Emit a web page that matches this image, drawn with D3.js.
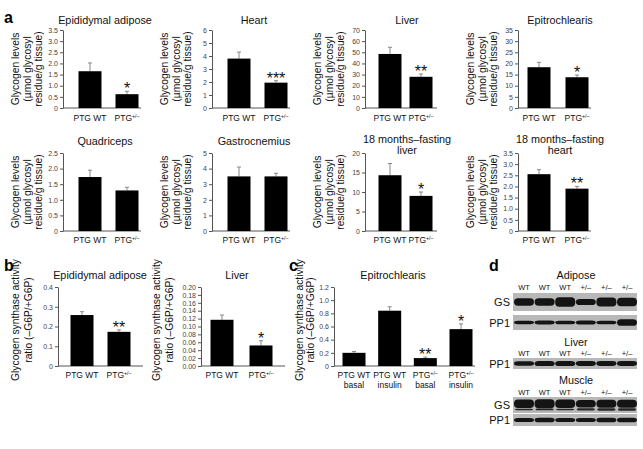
<!DOCTYPE html>
<html><head><meta charset="utf-8">
<script src="https://cdn.jsdelivr.net/npm/d3@7"></script>
<style>
body{margin:0;background:#fff;}
svg text{font-family:"Liberation Sans",Arial,Helvetica,sans-serif;}
</style></head><body>
<svg id="fig" width="643" height="449"></svg>
<script>
// ---------- DATA ----------
const ptgCats = ["PTG WT", "PTG+/-"];

const epiAdiposeGlycogen = [1.65, 0.62];
const epiAdiposeGlycogenErr = [2.02, 0.75];
const heartGlycogen = [3.8, 1.95];
const heartGlycogenErr = [4.3, 2.1];
const liverGlycogen = [48.5, 28];
const liverGlycogenErr = [54.5, 30.5];
const epitroGlycogen = [18.3, 13.8];
const epitroGlycogenErr = [20.5, 14.8];
const quadGlycogen = [1.73, 1.3];
const quadGlycogenErr = [1.95, 1.4];
const gastroGlycogen = [3.5, 3.5];
const gastroGlycogenErr = [4.1, 3.7];
const oldLiverGlycogen = [14.3, 9.0];
const oldLiverGlycogenErr = [17.3, 10.0];
const oldHeartGlycogen = [2.55, 1.9];
const oldHeartGlycogenErr = [2.75, 2.0];

const gsAdiposeRatio = [0.258, 0.173];
const gsAdiposeRatioErr = [0.275, 0.183];
const gsLiverRatio = [0.117, 0.052];
const gsLiverRatioErr = [0.129, 0.064];

const epitroGenotype = ["PTG WT", "PTG WT", "PTG+/-", "PTG+/-"];
const epitroCondition = ["basal", "insulin", "basal", "insulin"];
const gsEpitroRatio = [0.20, 0.84, 0.12, 0.56];
const gsEpitroRatioErr = [0.22, 0.90, 0.135, 0.64];

const starsEpiAdipose = ["", "*"];
const starsHeart = ["", "***"];
const starsLiver = ["", "**"];
const starsEpitro = ["", "*"];
const starsNone = ["", ""];
const starsOldLiver = ["", "*"];
const starsOldHeart = ["", "**"];
const starsGsAdipose = ["", "**"];
const starsGsLiver = ["", "*"];
const starsGsEpitro = ["", "", "**", "*"];

const ticks35 = ["0", "0.5", "1.0", "1.5", "2.0", "2.5", "3.0", "3.5"];
const ticks6 = ["0", "1", "2", "3", "4", "5", "6"];
const ticks70 = ["0", "10", "20", "30", "40", "50", "60", "70"];
const ticks35b = ["0", "5", "10", "15", "20", "25", "30", "35"];
const ticks25 = ["0", "0.5", "1.0", "1.5", "2.0", "2.5"];
const ticks5 = ["0", "1", "2", "3", "4", "5"];
const ticks20 = ["0", "5", "10", "15", "20"];
const ticks04 = ["0", "0.1", "0.2", "0.3", "0.4"];
const ticks020 = ["0.00", "0.02", "0.04", "0.06", "0.08", "0.10", "0.12", "0.14", "0.16", "0.18", "0.20"];
const ticks12 = ["0", "0.2", "0.4", "0.6", "0.8", "1.0", "1.2"];

const blotLanes = ["WT", "WT", "WT", "+/–", "+/–", "+/–"];
const adiposeGS = [0.72, 0.72, 0.95, 0.62, 0.9, 0.85];
const adiposePP1 = [0.4, 0.45, 0.42, 0.48, 0.42, 0.8];
const liverPP1 = [0.72, 0.85, 0.85, 0.8, 0.8, 0.78];
const muscleGS = [0.95, 1.0, 0.95, 0.85, 0.9, 0.9];
const muscleGSLower = [0.3, 0.35, 0.3, 0.45, 0.5, 0.5];
const musclePP1 = [0.62, 0.68, 0.62, 0.62, 0.68, 0.68];

// ---------- DRAWING ----------
const svg = d3.select("#fig");
const glyLab = ["Glycogen levels", "(µmol glycosyl", "residue/g tissue)"];
const gsLab = ["Glycogen synthase activity", "ratio (–G6P/+G6P)"];

function writeCat(textSel, cat, fs) {
  if (cat.endsWith("+/-")) {
    textSel.text(null);
    textSel.append("tspan").text(cat.replace("+/-", ""));
    textSel.append("tspan").attr("font-size", fs * 0.62).attr("dy", -fs * 0.38).text("+/–");
  } else textSel.text(cat);
}

function drawBarChart(o) {
  const g = svg.append("g");
  const y = d3.scaleLinear().domain([0, +o.ticks[o.ticks.length - 1]]).range([o.yBot, o.yTop]);
  const x = d3.scalePoint().domain(d3.range(o.vals.length)).range([o.c1, o.c2]);
  const bw = 23;
  const ax = g.append("g").attr("transform", `translate(${o.axisX},0)`)
    .call(d3.axisLeft(y).tickValues(o.ticks.map(Number)).tickFormat((d, i) => o.ticks[i]).tickSize(3).tickSizeOuter(0).tickPadding(2));
  ax.select(".domain").attr("stroke", "#555");
  ax.selectAll(".tick line").attr("stroke", "#555");
  ax.selectAll(".tick text").attr("font-size", 7).attr("fill", "#444").attr("font-family", "Liberation Sans, Arial, sans-serif");
  g.append("line").attr("x1", o.axisX).attr("x2", o.xEnd).attr("y1", y(0)).attr("y2", y(0)).attr("stroke", "#555");
  const idx = d3.range(o.vals.length);
  g.selectAll(".eb").data(idx).join("line")
    .attr("x1", i => x(i)).attr("x2", i => x(i)).attr("y1", i => y(o.vals[i])).attr("y2", i => y(o.errs[i]))
    .attr("stroke", "#888").attr("stroke-width", 1);
  g.selectAll(".ec").data(idx).join("line")
    .attr("x1", i => x(i) - 2).attr("x2", i => x(i) + 2).attr("y1", i => y(o.errs[i])).attr("y2", i => y(o.errs[i]))
    .attr("stroke", "#888").attr("stroke-width", 1);
  g.selectAll(".bar").data(idx).join("rect")
    .attr("x", i => x(i) - bw / 2).attr("width", bw)
    .attr("y", i => y(o.vals[i])).attr("height", i => y(0) - y(o.vals[i])).attr("fill", "#000");
  g.selectAll(".star").data(idx).join("text")
    .attr("x", i => x(i)).attr("y", i => y(o.errs[i]) + 3).attr("text-anchor", "middle")
    .attr("font-size", 16).attr("fill", "#111").text(i => o.stars[i]);
  idx.forEach(i => {
    const t = g.append("text").attr("x", x(i)).attr("y", o.catY).attr("text-anchor", "middle").attr("font-size", 8.5).attr("fill", "#111");
    writeCat(t, o.cats[i], 8.5);
    if (o.cats2) g.append("text").attr("x", x(i)).attr("y", o.catY + 10).attr("text-anchor", "middle").attr("font-size", 8.5).attr("fill", "#111").text(o.cats2[i]);
  });
  o.title.forEach((t, k) => g.append("text").attr("x", o.titleX).attr("y", o.titleY + k * 11).attr("text-anchor", "middle")
    .attr("font-size", 10.8).attr("fill", "#111").text(t));
  o.ylab.forEach((t, k) => g.append("text").attr("transform", `translate(${o.axisX + o.ylabDx[k]},${o.ylabY}) rotate(-90)`)
    .attr("text-anchor", "middle").attr("font-size", 10.3).attr("fill", "#111").text(t));
}

const cols = [{ax: 63, c: [90, 127], xe: 141}, {ax: 212, c: [239, 276], xe: 290}, {ax: 365, c: [390, 421], xe: 437}, {ax: 518, c: [539, 577], xe: 591}];
const rowA1 = {yTop: 30, yBot: 108, catY: 121, titleY: 24, ylabY: 69};
const rowA2 = {yTop: 153, yBot: 231, catY: 243, titleY: 145, ylabY: 192};
const glyDx = [-44, -32, -21];

const panelA = [
  [rowA1, cols[0], ["Epididymal adipose"], epiAdiposeGlycogen, epiAdiposeGlycogenErr, starsEpiAdipose, ticks35],
  [rowA1, cols[1], ["Heart"], heartGlycogen, heartGlycogenErr, starsHeart, ticks6],
  [rowA1, cols[2], ["Liver"], liverGlycogen, liverGlycogenErr, starsLiver, ticks70],
  [rowA1, cols[3], ["Epitrochlearis"], epitroGlycogen, epitroGlycogenErr, starsEpitro, ticks35b],
  [rowA2, cols[0], ["Quadriceps"], quadGlycogen, quadGlycogenErr, starsNone, ticks25],
  [rowA2, cols[1], ["Gastrocnemius"], gastroGlycogen, gastroGlycogenErr, starsNone, ticks5],
  [rowA2, cols[2], ["18 months–fasting", "liver"], oldLiverGlycogen, oldLiverGlycogenErr, starsOldLiver, ticks20],
  [rowA2, cols[3], ["18 months–fasting", "heart"], oldHeartGlycogen, oldHeartGlycogenErr, starsOldHeart, ticks35]
];
panelA.forEach(([r, c, title, vals, errs, stars, ticks]) => drawBarChart({
  cats: ptgCats, vals, errs, stars, ticks, axisX: c.ax, xEnd: c.xe, c1: c.c[0], c2: c.c[1],
  yTop: r.yTop, yBot: r.yBot, catY: r.catY, title, titleX: c.ax + 42, titleY: title.length > 1 ? r.titleY - 2 : r.titleY,
  ylab: glyLab, ylabDx: glyDx, ylabY: r.ylabY
}));

drawBarChart({cats: ptgCats, vals: gsAdiposeRatio, errs: gsAdiposeRatioErr, stars: starsGsAdipose, ticks: ticks04,
  axisX: 58, xEnd: 143, c1: 82, c2: 119, yTop: 287, yBot: 366, catY: 378, title: ["Epididymal adipose"], titleX: 100, titleY: 279,
  ylab: gsLab, ylabDx: [-39, -26], ylabY: 320});
drawBarChart({cats: ptgCats, vals: gsLiverRatio, errs: gsLiverRatioErr, stars: starsGsLiver, ticks: ticks020,
  axisX: 201, xEnd: 285, c1: 222, c2: 261, yTop: 287, yBot: 366, catY: 378, title: ["Liver"], titleX: 237, titleY: 279,
  ylab: gsLab, ylabDx: [-41, -28], ylabY: 320});
drawBarChart({cats: epitroGenotype, cats2: epitroCondition, vals: gsEpitroRatio, errs: gsEpitroRatioErr, stars: starsGsEpitro, ticks: ticks12,
  axisX: 334, xEnd: 475, c1: 354, c2: 461, yTop: 287, yBot: 366, catY: 378, title: ["Epitrochlearis"], titleX: 393, titleY: 279,
  ylab: gsLab, ylabDx: [-31, -20], ylabY: 320});

[["a", 4, 23], ["b", 4, 271], ["c", 289, 271], ["d", 489, 271]].forEach(([t, x, y]) =>
  svg.append("text").attr("x", x).attr("y", y).attr("font-size", 16).attr("font-weight", "bold").attr("fill", "#000").text(t));

const lane = d3.scalePoint().domain(d3.range(blotLanes.length)).range([524, 627]);
const laneW = 18;
function header(y) {
  svg.append("g").selectAll("text").data(blotLanes).join("text")
    .attr("x", (d, i) => lane(i)).attr("y", y).attr("text-anchor", "middle").attr("font-size", 7.5).attr("fill", "#111").text(d => d);
}
function tissue(t, y) {
  svg.append("text").attr("x", 576).attr("y", y).attr("text-anchor", "middle").attr("font-size", 10.8).attr("fill", "#111").text(t);
}
function blot(label, y0, h, thick, lower) {
  const g = svg.append("g");
  g.append("rect").attr("x", 513).attr("y", y0).attr("width", 124).attr("height", h).attr("fill", "#b8b8b8");
  const cy = lower ? y0 + h * 0.42 : y0 + h / 2;
  g.selectAll(".band").data(thick).join("rect")
    .attr("x", (d, i) => lane(i) - laneW / 2 - 1).attr("width", laneW + 2)
    .attr("y", d => cy - d * h * 0.28).attr("height", d => d * h * 0.56)
    .attr("rx", 4).attr("fill", "#141414");
  if (lower) g.selectAll(".band2").data(lower).join("rect")
    .attr("x", (d, i) => lane(i) - laneW / 2).attr("width", laneW)
    .attr("y", d => y0 + h * 0.78 - d * 2.5).attr("height", d => d * 5)
    .attr("rx", 2).attr("fill", "#262626");
  svg.append("text").attr("x", 510).attr("y", y0 + h / 2 + 4).attr("text-anchor", "end").attr("font-size", 11).attr("fill", "#111").text(label);
}
tissue("Adipose", 279); header(290);
blot("GS", 293, 18, adiposeGS);
blot("PP1", 315, 15, adiposePP1);
tissue("Liver", 346); header(356);
blot("PP1", 358, 11, liverPP1);
tissue("Muscle", 384); header(395);
blot("GS", 397, 16, muscleGS, muscleGSLower);
blot("PP1", 414, 12, musclePP1);
</script>
</body></html>
